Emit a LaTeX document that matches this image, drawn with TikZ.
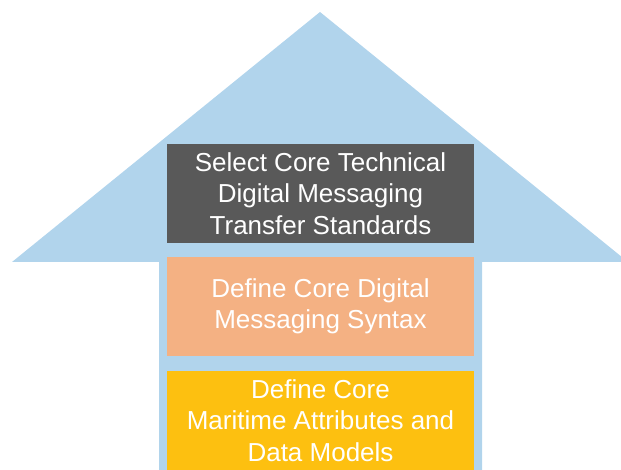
\documentclass[tikz,border=0pt]{standalone}
\usepackage{fontspec}
\setmainfont{Liberation Sans}
\usetikzlibrary{positioning}

\definecolor{arrowblue}{HTML}{B1D4EC}
\definecolor{stdgray}{HTML}{595959}
\definecolor{synorange}{HTML}{F4B183}
\definecolor{mdlyellow}{HTML}{FDC010}

\tikzset{
  stage/.style={minimum width=307pt, minimum height=99pt, inner sep=0pt,
    outer sep=0pt, align=center, text=white,
    font=\fontsize{26}{31.5}\selectfont}
}

\begin{document}
\begin{tikzpicture}[x=1pt, y=-1pt, node distance=14pt]
        \useasboundingbox (0,0) rectangle (621,470);
        \clip (0,0) rectangle (621,470);

        % big arrow behind the stages
        \fill [arrowblue] (320,12) -- (628,262) -- (482,262) -- (482,480)
              -- (159,480) -- (159,262) -- (12,262) -- cycle;

        \node (std) [stage, fill=stdgray] at (320.5,193.5)
              {Select Core Technical\\Digital Messaging\\Transfer Standards};
        \node (syn) [stage, fill=synorange, below=of std]
              {Define Core Digital\\Messaging Syntax};
        \node (mdl) [stage, fill=mdlyellow, below=15pt of syn]
              {Define Core\\Maritime Attributes and\\Data Models};
      \end{tikzpicture}
\end{document}
